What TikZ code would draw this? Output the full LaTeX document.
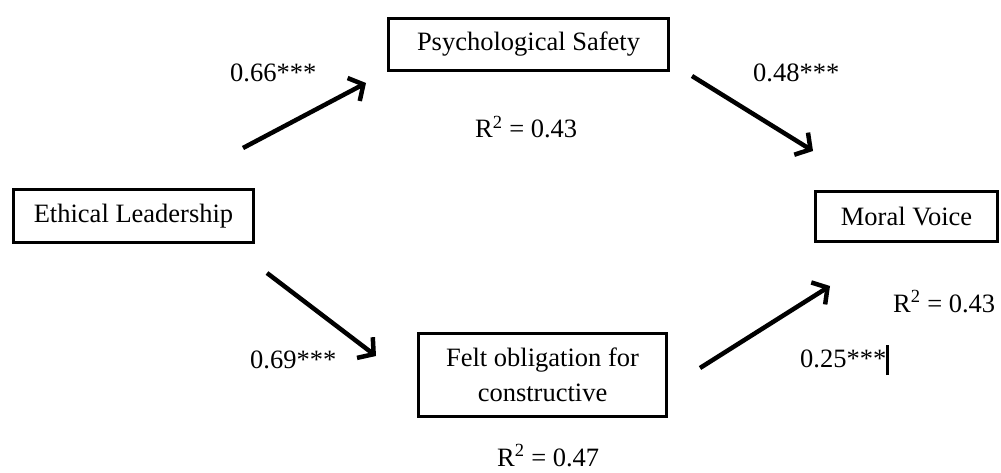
\documentclass[tikz,border=0pt]{standalone}
\usepackage{fontspec}
\setmainfont{Liberation Serif}
\usetikzlibrary{arrows.meta}

\begin{document}
\begin{tikzpicture}[x=1pt,y=-1pt,
  every node/.style={font=\fontsize{26.5}{35}\selectfont, inner sep=0pt},
  varbox/.style={draw, line width=3.5pt, align=center},
  path/.style={line width=4.5pt, -{Straight Barb[length=11pt,width=26pt]}},
  coef/.style={anchor=base west}
]
\useasboundingbox (0,0) rectangle (1001,473);

% variables
\node[varbox, minimum width=280pt, minimum height=52pt] (ps) at (528.5,44.5) {Psychological Safety};
\node[varbox, minimum width=240pt, minimum height=53pt] (el) at (133.5,216) {Ethical Leadership};
\node[varbox, minimum width=182pt, minimum height=50pt] (mv) at (906.5,216.5) {Moral Voice};
\node[varbox, minimum width=248pt, minimum height=83pt] (fo) at (542.5,375) {Felt obligation for\\constructive};

% arrow end points
\coordinate (a1s) at (243,148);
\coordinate (a1e) at (366,83);
\coordinate (a2s) at (692,76);
\coordinate (a2e) at (813,151);
\coordinate (a3s) at (267,273);
\coordinate (a3e) at (376,356);
\coordinate (a4s) at (700,368);
\coordinate (a4e) at (830,286);

\draw[path] (a1s) -- (a1e);
\draw[path] (a2s) -- (a2e);
\draw[path] (a3s) -- (a3e);
\draw[path] (a4s) -- (a4e);

% path coefficients and explained variance
\node[coef] (c1) at (230,82) {0.66***};
\node[coef] (c2) at (753,82) {0.48***};
\node[coef] (r1) at (475,138) {R\textsuperscript{2} = 0.43};
\node[coef] (c3) at (250,368) {0.69***};
\node[coef] (c4) at (800,367) {0.25***\rule[-8pt]{2.5pt}{30pt}};
\node[coef] (r2) at (893,312) {R\textsuperscript{2} = 0.43};
\node[coef] (r3) at (497,466) {R\textsuperscript{2} = 0.47};
\end{tikzpicture}
\end{document}
